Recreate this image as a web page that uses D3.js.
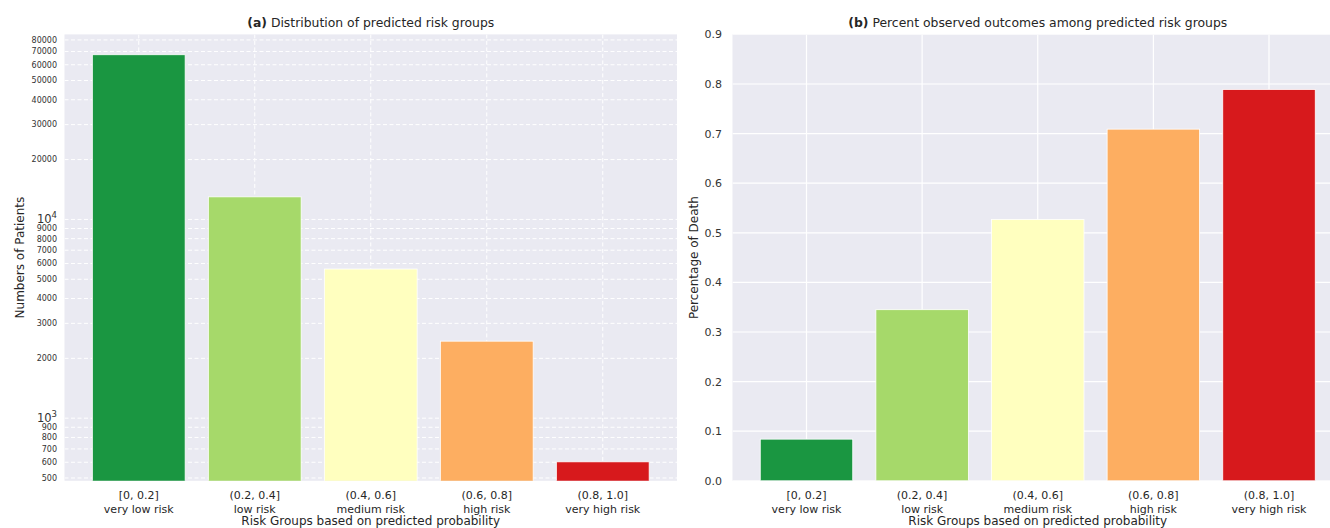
<!DOCTYPE html>
<html>
<head>
<meta charset="utf-8">
<script src="https://cdn.jsdelivr.net/npm/d3@7"></script>
<style>
  body { margin: 0; background: #ffffff; }
  svg { display: block; font-family: "DejaVu Sans", sans-serif; }
</style>
</head>
<body>
<svg id="chart" width="1330" height="528"></svg>
<script>
// Risk groups shared by both panels
const groupRanges = ["[0, 0.2]", "(0.2, 0.4]", "(0.4, 0.6]", "(0.6, 0.8]", "(0.8, 1.0]"];
const groupNames = ["very low risk", "low risk", "medium risk", "high risk", "very high risk"];
const groupColors = ["#1a9641", "#a6d96a", "#ffffbf", "#fdae61", "#d7191c"];

// Panel (a): number of patients per group (log scale)
const patientCounts = [67400, 12990, 5630, 2440, 603];
// Panel (b): observed death rate per group
const deathRates = [0.084, 0.345, 0.527, 0.709, 0.789];

// Tick values
const logMajorTicks = [1000, 10000];
const logMinorTicks = [500, 600, 700, 800, 900, 2000, 3000, 4000, 5000, 6000, 7000, 8000, 9000,
                       20000, 30000, 40000, 50000, 60000, 70000, 80000];
const rateTicks = [0.0, 0.1, 0.2, 0.3, 0.4, 0.5, 0.6, 0.7, 0.8, 0.9];

const svg = d3.select("#chart");
const TXT = "#262626";
const BG = "#eaeaf2";
const plotTop = 34.4, plotBottom = 480.8;

function panelBase(g, x0, x1, clipId) {
  g.append("clipPath").attr("id", clipId)
    .append("rect").attr("x", x0).attr("y", plotTop).attr("width", x1 - x0).attr("height", plotBottom - plotTop);
  g.append("rect").attr("x", x0).attr("y", plotTop).attr("width", x1 - x0).attr("height", plotBottom - plotTop)
    .attr("fill", BG);
}

function xAxisLabels(g, x, x0, x1) {
  const lab = g.append("g");
  d3.range(groupRanges.length).forEach(i => {
    const cx = x(i) + x.bandwidth() / 2;
    const t = lab.append("text").attr("text-anchor", "middle").attr("fill", TXT)
      .attr("font-size", 11);
    t.append("tspan").attr("x", cx).attr("y", 499).text(groupRanges[i]);
    t.append("tspan").attr("x", cx).attr("y", 512.5).text(groupNames[i]);
  });
  g.append("text").attr("x", (x0 + x1) / 2).attr("y", 525.3).attr("text-anchor", "middle")
    .attr("fill", TXT).attr("font-size", 12).text("Risk Groups based on predicted probability");
}

function title(g, cx, bold, rest) {
  const t = g.append("text").attr("x", cx).attr("y", 27).attr("text-anchor", "middle")
    .attr("fill", TXT).attr("font-size", 12.4);
  t.append("tspan").attr("font-weight", "bold").text(bold);
  t.append("tspan").text(" " + rest);
}

// ---------- Panel (a) ----------
{
  const x0 = 64.5, x1 = 677;
  const g = svg.append("g");
  panelBase(g, x0, x1, "clipA");
  const x = d3.scaleBand().domain(d3.range(5)).range([x0, x1]).paddingInner(0.2).paddingOuter(0.24);
  const y = d3.scaleLog().domain([484, 85300]).range([plotBottom, plotTop]);

  const grid = g.append("g").attr("clip-path", "url(#clipA)")
    .attr("stroke", "#ffffff").attr("stroke-width", 1).attr("stroke-dasharray", "4,2.5");
  grid.selectAll("line.h").data(logMajorTicks.concat(logMinorTicks)).join("line")
    .attr("x1", x0).attr("x2", x1).attr("y1", d => y(d)).attr("y2", d => y(d));
  grid.selectAll("line.v").data(d3.range(5)).join("line")
    .attr("y1", plotTop).attr("y2", plotBottom)
    .attr("x1", d => x(d) + x.bandwidth() / 2).attr("x2", d => x(d) + x.bandwidth() / 2);

  g.append("g").attr("clip-path", "url(#clipA)").selectAll("rect").data(patientCounts).join("rect")
    .attr("x", (d, i) => x(i)).attr("width", x.bandwidth())
    .attr("y", d => y(d)).attr("height", d => plotBottom + 2 - y(d))
    .attr("fill", (d, i) => groupColors[i]).attr("stroke", "#ffffff").attr("stroke-width", 0.8);

  // minor tick labels
  g.append("g").selectAll("text").data(logMinorTicks).join("text")
    .attr("x", 57).attr("y", d => y(d)).attr("dy", "0.36em").attr("text-anchor", "end")
    .attr("fill", "#333333").attr("font-size", 8).text(d => d);
  // major tick labels as powers of ten
  const maj = g.append("g").selectAll("text").data(logMajorTicks).join("text")
    .attr("x", 57).attr("y", d => y(d) + 4).attr("text-anchor", "end")
    .attr("fill", "#333333").attr("font-size", 11.5);
  maj.append("tspan").text("10");
  maj.append("tspan").attr("dy", -5).attr("font-size", 8.5).text(d => Math.round(Math.log10(d)));

  g.append("text").attr("transform", `translate(24,${(plotTop + plotBottom) / 2}) rotate(-90)`)
    .attr("text-anchor", "middle").attr("fill", TXT).attr("font-size", 12).text("Numbers of Patients");

  xAxisLabels(g, x, x0, x1);
  title(g, (x0 + x1) / 2, "(a)", "Distribution of predicted risk groups");
}

// ---------- Panel (b) ----------
{
  const x0 = 732.5, x1 = 1343;
  const g = svg.append("g");
  panelBase(g, x0, x1, "clipB");
  const x = d3.scaleBand().domain(d3.range(5)).range([x0, x1]).paddingInner(0.2).paddingOuter(0.24);
  const y = d3.scaleLinear().domain([0, 0.9]).range([plotBottom, plotTop]);

  const grid = g.append("g").attr("clip-path", "url(#clipB)")
    .attr("stroke", "#ffffff").attr("stroke-width", 1.2);
  grid.selectAll("line.h").data(rateTicks).join("line")
    .attr("x1", x0).attr("x2", x1).attr("y1", d => y(d)).attr("y2", d => y(d));
  grid.selectAll("line.v").data(d3.range(5)).join("line")
    .attr("y1", plotTop).attr("y2", plotBottom)
    .attr("x1", d => x(d) + x.bandwidth() / 2).attr("x2", d => x(d) + x.bandwidth() / 2);

  g.append("g").attr("clip-path", "url(#clipB)").selectAll("rect").data(deathRates).join("rect")
    .attr("x", (d, i) => x(i)).attr("width", x.bandwidth())
    .attr("y", d => y(d)).attr("height", d => y(0) - y(d))
    .attr("fill", (d, i) => groupColors[i]).attr("stroke", "#ffffff").attr("stroke-width", 0.8);

  g.append("g").selectAll("text").data(rateTicks).join("text")
    .attr("x", 722).attr("y", d => y(d)).attr("dy", "0.36em").attr("text-anchor", "end")
    .attr("fill", "#333333").attr("font-size", 11).text(d => d3.format(".1f")(d));

  g.append("text").attr("transform", `translate(698,${(plotTop + plotBottom) / 2}) rotate(-90)`)
    .attr("text-anchor", "middle").attr("fill", TXT).attr("font-size", 12).text("Percentage of Death");

  xAxisLabels(g, x, x0, x1);
  title(g, (x0 + x1) / 2, "(b)", "Percent observed outcomes among predicted risk groups");
}
</script>
</body>
</html>
